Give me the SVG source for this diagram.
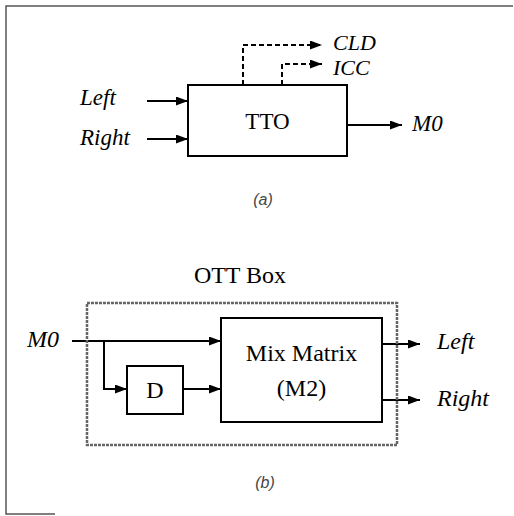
<svg xmlns="http://www.w3.org/2000/svg" width="514" height="516" viewBox="0 0 514 516">
<style>
.lbl{font-family:"Liberation Serif","Times New Roman","DejaVu Serif",serif;font-size:23px;fill:#000}
.it{font-style:italic}
.cap{font-family:"Liberation Sans",Arial,sans-serif;font-style:italic;font-size:16px;fill:#444}
.box{fill:#fff;stroke:#000;stroke-width:2}
.ln{fill:none;stroke:#000;stroke-width:2}
.dash{fill:none;stroke:#000;stroke-width:2;stroke-dasharray:5 3}
.frame{fill:none;stroke:#555;stroke-width:1.5}
</style>
<defs>
<marker id="ah" markerWidth="12" markerHeight="9" refX="12" refY="4.5" orient="auto" markerUnits="userSpaceOnUse">
<path d="M0,0 L12,4.5 L0,9 Z" fill="#000"/>
</marker>
</defs>
<path class="frame" d="M55,514 L6,514 L6,6 L513,6"/>

<g id="connectors">
<line class="ln" x1="147" y1="101" x2="188" y2="101" marker-end="url(#ah)"/>
<line class="ln" x1="147" y1="139" x2="188" y2="139" marker-end="url(#ah)"/>
<line class="ln" x1="347" y1="125" x2="402" y2="125" marker-end="url(#ah)"/>
<path class="dash" d="M243,85 L243,45 L322,45" marker-end="url(#ah)"/>
<path class="dash" d="M282,85 L282,64 L322,64" marker-end="url(#ah)"/>
<line class="ln" x1="72" y1="341" x2="221" y2="341" marker-end="url(#ah)"/>
<path class="ln" d="M104,341 L104,389 L127,389" marker-end="url(#ah)"/>
<line class="ln" x1="183" y1="389" x2="221" y2="389" marker-end="url(#ah)"/>
<line class="ln" x1="382" y1="344" x2="420" y2="344" marker-end="url(#ah)"/>
<line class="ln" x1="382" y1="400" x2="420" y2="400" marker-end="url(#ah)"/>
</g>

<g id="tto">
<rect class="box" x="188" y="85" width="159" height="71"/>
<text class="lbl" x="267.5" y="129" text-anchor="middle">TTO</text>
</g>
<g id="in-left"><text class="lbl it" x="80" y="105">Left</text></g>
<g id="in-right"><text class="lbl it" x="80" y="145">Right</text></g>
<g id="out-m0"><text class="lbl it" x="412" y="131">M0</text></g>
<g id="out-cld"><text class="lbl it" x="333" y="50" style="font-size:22px">CLD</text></g>
<g id="out-icc"><text class="lbl it" x="333" y="75" style="font-size:22px">ICC</text></g>
<g id="cap-a"><text class="cap" x="263" y="205" text-anchor="middle">(a)</text></g>

<g id="ott-box">
<rect x="87" y="303" width="310" height="142" fill="none" stroke="#666" stroke-width="2.5" stroke-dasharray="3 1"/>
<text class="lbl" x="240" y="283" text-anchor="middle" style="font-size:24px">OTT Box</text>
</g>
<g id="mix">
<rect class="box" x="221" y="318" width="161" height="104"/>
<text class="lbl" x="301.5" y="361" text-anchor="middle" style="font-size:24px">Mix Matrix</text>
<text class="lbl" x="301.5" y="396" text-anchor="middle" style="font-size:24px">(M2)</text>
</g>
<g id="d">
<rect class="box" x="127" y="366" width="56" height="48"/>
<text class="lbl" x="155" y="398" text-anchor="middle" style="font-size:24px">D</text>
</g>
<g id="in-m0"><text class="lbl it" x="27" y="347" style="font-size:24px">M0</text></g>
<g id="out-left"><text class="lbl it" x="437" y="349" style="font-size:24px">Left</text></g>
<g id="out-right"><text class="lbl it" x="437" y="406" style="font-size:24px">Right</text></g>
<g id="cap-b"><text class="cap" x="265" y="488" text-anchor="middle">(b)</text></g>
</svg>
